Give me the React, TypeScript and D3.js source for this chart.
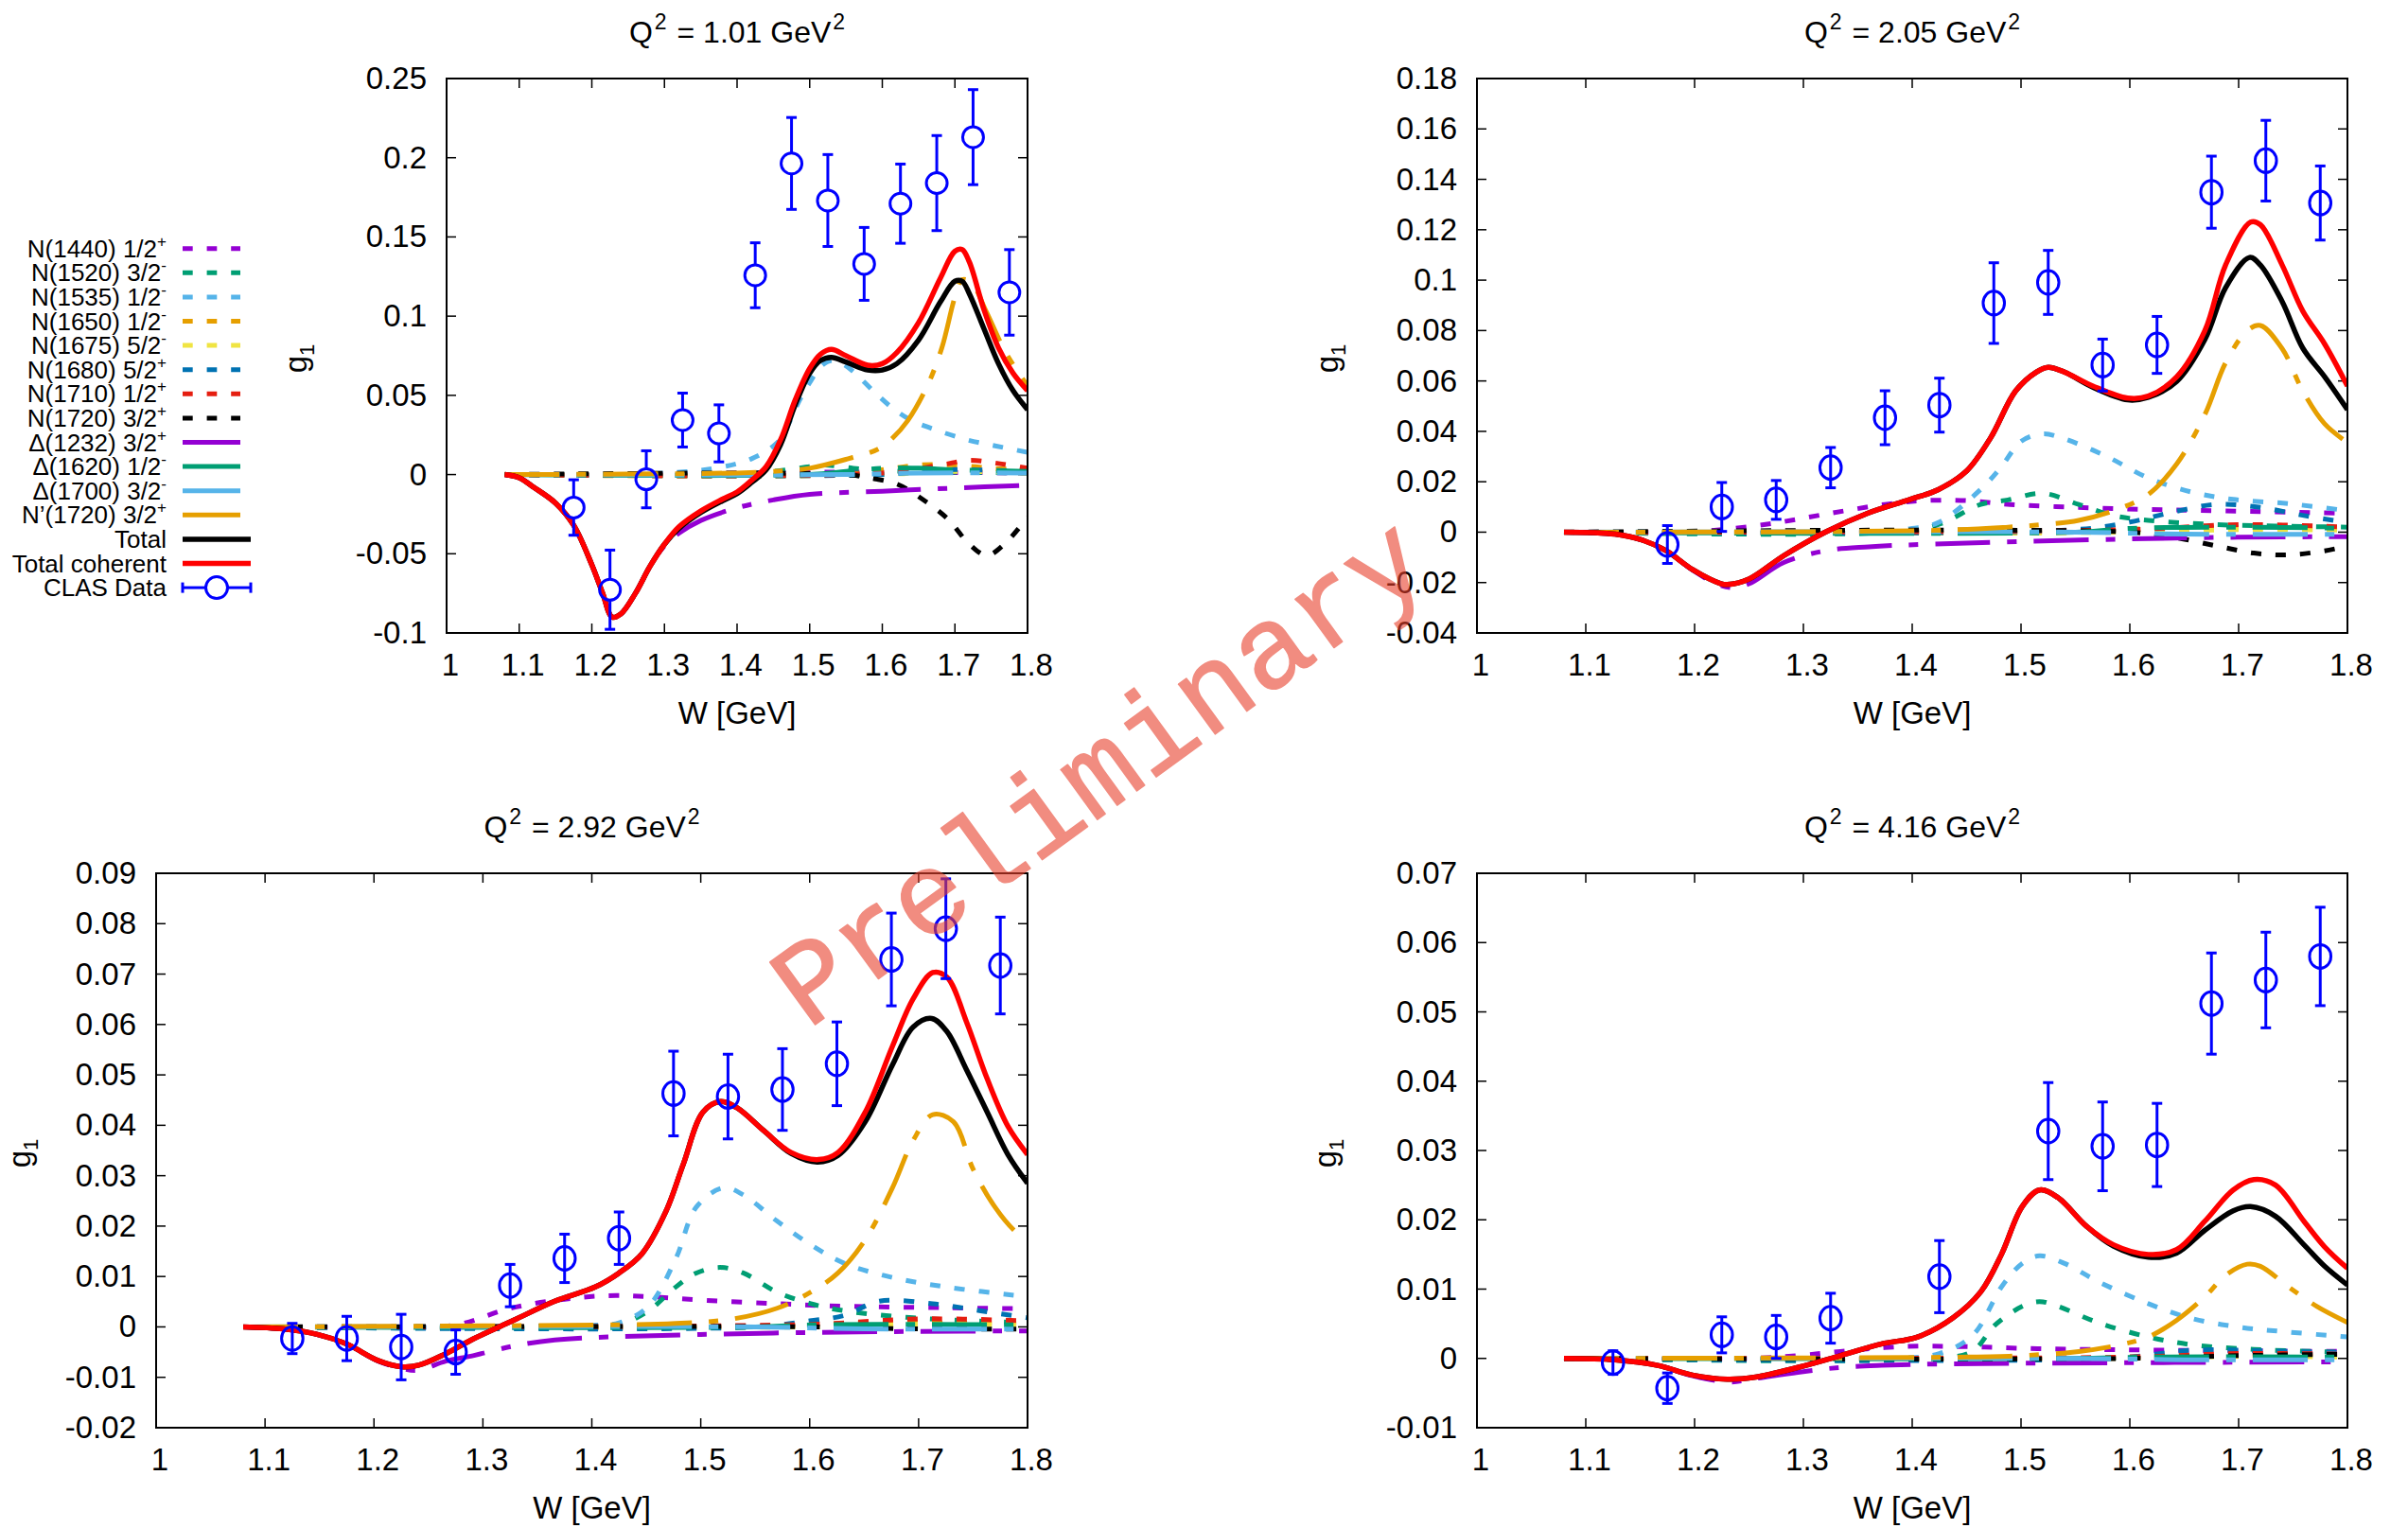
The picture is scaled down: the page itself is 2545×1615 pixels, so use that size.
import React from 'react';
import * as d3 from 'd3';

type Pt = [number, number];

// ---------- shared axis values ----------
const W_TICKS = [1, 1.1, 1.2, 1.3, 1.4, 1.5, 1.6, 1.7, 1.8];

// ---------- legend labels (text, superscript) ----------
const COMPONENT_LABELS: [string, string][] = [
  ['N(1440) 1/2', '+'],
  ['N(1520) 3/2', '-'],
  ['N(1535) 1/2', '-'],
  ['N(1650) 1/2', '-'],
  ['N(1675) 5/2', '-'],
  ['N(1680) 5/2', '+'],
  ['N(1710) 1/2', '+'],
  ['N(1720) 3/2', '+'],
  ['\u0394(1232) 3/2', '+'],
  ['\u0394(1620) 1/2', '-'],
  ['\u0394(1700) 3/2', '-'],
  ['N\u2019(1720) 3/2', '+'],
];

// line style of each resonance contribution, same order as the labels
const COMPONENT_STYLES = [
  { color: '#9400d3', kind: 'dash' },
  { color: '#009e73', kind: 'dash' },
  { color: '#56b4e9', kind: 'dash' },
  { color: '#e69f00', kind: 'dash' },
  { color: '#f0e442', kind: 'dash' },
  { color: '#0072b2', kind: 'dash' },
  { color: '#e51e10', kind: 'dash' },
  { color: '#000000', kind: 'dash' },
  { color: '#9400d3', kind: 'dashdot' },
  { color: '#009e73', kind: 'dashdot' },
  { color: '#56b4e9', kind: 'dashdot' },
  { color: '#e69f00', kind: 'dashdot' },
];

// =====================================================================
// Q^2 = 1.01 GeV^2
// =====================================================================
const p1W = [1.175, 1.225, 1.275, 1.325, 1.375, 1.425, 1.475, 1.525, 1.575, 1.625, 1.675, 1.725, 1.775];
const p1G = [-0.0208, -0.0727, -0.003, 0.0344, 0.026, 0.1258, 0.1964, 0.173, 0.133, 0.171, 0.184, 0.213, 0.115];
const p1E = [0.0175, 0.025, 0.018, 0.017, 0.018, 0.0205, 0.029, 0.029, 0.023, 0.025, 0.03, 0.03, 0.027];

const p1N1440: Pt[] = [[1.08, 0], [1.3, 0], [1.4, 0.001], [1.5, 0.0015], [1.6, 0.0015], [1.8, 0.001]];
const p1N1520: Pt[] = [[1.08, 0], [1.4, 0], [1.45, 0.002], [1.5, 0.005], [1.52, 0.006], [1.56, 0.004], [1.6, 0.0025], [1.7, 0.0015], [1.8, 0.001]];
const p1N1535: Pt[] = [[1.08, 0], [1.3, 0.001], [1.37, 0.004], [1.42, 0.01], [1.455, 0.02], [1.47, 0.031], [1.485, 0.046], [1.5, 0.058], [1.515, 0.068], [1.53, 0.072], [1.545, 0.07], [1.56, 0.065], [1.587, 0.053], [1.614, 0.042], [1.641, 0.034], [1.675, 0.028], [1.716, 0.022], [1.757, 0.018], [1.8, 0.014]];
const p1N1650: Pt[] = [[1.08, 0], [1.55, 0], [1.6, 0.003], [1.65, 0.006], [1.7, 0.006], [1.75, 0.004], [1.8, 0.003]];
const p1N1675: Pt[] = [[1.08, 0], [1.6, 0], [1.68, 0.002], [1.8, 0.001]];
const p1N1680: Pt[] = [[1.08, 0], [1.6, 0], [1.68, 0.003], [1.8, 0.002]];
const p1N1710: Pt[] = [[1.08, 0], [1.6, 0.001], [1.68, 0.006], [1.72, 0.009], [1.76, 0.007], [1.8, 0.004]];
const p1N1720: Pt[] = [[1.08, 0], [1.55, 0], [1.58, -0.002], [1.62, -0.006], [1.655, -0.0155], [1.69, -0.028], [1.72, -0.044], [1.744, -0.051], [1.77, -0.043], [1.8, -0.027]];
const p1D1232: Pt[] = [[1.08, 0], [1.1, -0.002], [1.12, -0.008], [1.15, -0.018], [1.175, -0.032], [1.2, -0.057], [1.215, -0.075], [1.228, -0.09], [1.24, -0.088], [1.26, -0.075], [1.28, -0.058], [1.3, -0.045], [1.32, -0.037], [1.35, -0.029], [1.4, -0.021], [1.45, -0.016], [1.5, -0.0125], [1.6, -0.0105], [1.7, -0.0085], [1.8, -0.0068]];
const p1D1620: Pt[] = [[1.08, 0], [1.5, 0], [1.55, 0.002], [1.6, 0.004], [1.65, 0.004], [1.7, 0.003], [1.8, 0.002]];
const p1D1700: Pt[] = [[1.08, 0], [1.55, 0], [1.65, 0.001], [1.8, 0.001]];
const p1Np1720: Pt[] = [[1.08, 0], [1.4, 0.001], [1.45, 0.002], [1.5, 0.004], [1.553, 0.01], [1.594, 0.016], [1.614, 0.023], [1.635, 0.034], [1.662, 0.056], [1.682, 0.08], [1.7, 0.112], [1.71, 0.123], [1.723, 0.121], [1.743, 0.103], [1.77, 0.077], [1.8, 0.056]];
const p1Total: Pt[] = [[1.08, 0], [1.1, -0.002], [1.12, -0.008], [1.15, -0.018], [1.175, -0.032], [1.2, -0.057], [1.215, -0.075], [1.228, -0.09], [1.24, -0.088], [1.26, -0.075], [1.28, -0.058], [1.3, -0.044], [1.32, -0.034], [1.35, -0.024], [1.38, -0.0165], [1.4, -0.012], [1.42, -0.005], [1.44, 0.003], [1.46, 0.019], [1.48, 0.044], [1.5, 0.064], [1.515, 0.072], [1.53, 0.074], [1.55, 0.071], [1.58, 0.066], [1.6, 0.066], [1.62, 0.07], [1.65, 0.085], [1.68, 0.109], [1.7, 0.122], [1.71, 0.122], [1.72, 0.114], [1.74, 0.092], [1.76, 0.07], [1.78, 0.053], [1.8, 0.041]];
const p1Coherent: Pt[] = [[1.08, 0], [1.1, -0.002], [1.12, -0.008], [1.15, -0.018], [1.175, -0.032], [1.2, -0.057], [1.215, -0.075], [1.228, -0.09], [1.24, -0.088], [1.26, -0.075], [1.28, -0.058], [1.3, -0.044], [1.32, -0.033], [1.35, -0.023], [1.38, -0.0155], [1.4, -0.011], [1.42, -0.0036], [1.44, 0.005], [1.46, 0.022], [1.48, 0.047], [1.5, 0.067], [1.515, 0.076], [1.53, 0.079], [1.55, 0.075], [1.58, 0.069], [1.6, 0.07], [1.62, 0.077], [1.65, 0.096], [1.68, 0.124], [1.7, 0.141], [1.71, 0.142], [1.72, 0.134], [1.74, 0.104], [1.76, 0.08], [1.78, 0.064], [1.8, 0.053]];

// =====================================================================
// Q^2 = 2.05 GeV^2
// =====================================================================
const p2W = [1.175, 1.225, 1.275, 1.325, 1.375, 1.425, 1.475, 1.525, 1.575, 1.625, 1.675, 1.725, 1.775];
const p2G = [-0.0049, 0.01, 0.0128, 0.0256, 0.0454, 0.0504, 0.0909, 0.0991, 0.0663, 0.0743, 0.1349, 0.1474, 0.1306];
const p2E = [0.0075, 0.0097, 0.0077, 0.008, 0.0107, 0.0107, 0.016, 0.0127, 0.0103, 0.0113, 0.0143, 0.016, 0.0147];

const p2N1440: Pt[] = [[1.08, 0], [1.18, 0], [1.225, 0.001], [1.275, 0.0037], [1.325, 0.0075], [1.375, 0.011], [1.41, 0.0125], [1.45, 0.0125], [1.49, 0.011], [1.553, 0.0098], [1.617, 0.009], [1.68, 0.0085], [1.8, 0.0075]];
const p2N1520: Pt[] = [[1.08, 0], [1.38, 0], [1.424, 0.003], [1.463, 0.011], [1.488, 0.0128], [1.52, 0.0154], [1.553, 0.011], [1.585, 0.0066], [1.617, 0.0047], [1.68, 0.003], [1.8, 0.002]];
const p2N1535: Pt[] = [[1.08, 0], [1.35, 0], [1.4, 0.0015], [1.424, 0.0038], [1.463, 0.017], [1.482, 0.026], [1.5, 0.036], [1.52, 0.039], [1.54, 0.037], [1.579, 0.03], [1.617, 0.0215], [1.656, 0.016], [1.695, 0.013], [1.746, 0.0113], [1.8, 0.0085]];
const p2N1650: Pt[] = [[1.08, 0], [1.55, 0], [1.62, 0.0015], [1.68, 0.002], [1.8, 0.0015]];
const p2N1675: Pt[] = [[1.08, 0], [1.6, 0], [1.7, 0.001], [1.8, 0.0008]];
const p2N1680: Pt[] = [[1.08, 0], [1.55, 0.001], [1.6, 0.004], [1.64, 0.008], [1.68, 0.011], [1.72, 0.0098], [1.76, 0.0066], [1.8, 0.0038]];
const p2N1710: Pt[] = [[1.08, 0], [1.6, 0.001], [1.7, 0.003], [1.8, 0.002]];
const p2N1720: Pt[] = [[1.08, 0], [1.6, 0], [1.64, -0.002], [1.68, -0.0055], [1.714, -0.0083], [1.746, -0.009], [1.779, -0.0074], [1.8, -0.0055]];
const p2D1232: Pt[] = [[1.08, 0], [1.127, -0.0008], [1.153, -0.0033], [1.174, -0.0074], [1.198, -0.015], [1.22, -0.0205], [1.235, -0.022], [1.25, -0.0205], [1.282, -0.012], [1.32, -0.0074], [1.36, -0.0058], [1.42, -0.0047], [1.5, -0.0037], [1.6, -0.0027], [1.7, -0.002], [1.8, -0.0018]];
const p2D1620: Pt[] = [[1.08, 0], [1.55, 0], [1.6, 0.0015], [1.7, 0.002], [1.8, 0.0015]];
const p2D1700: Pt[] = [[1.08, 0], [1.55, 0], [1.65, -0.0008], [1.8, -0.0008]];
const p2Np1720: Pt[] = [[1.08, 0], [1.42, 0.0007], [1.488, 0.002], [1.52, 0.003], [1.553, 0.0047], [1.585, 0.0085], [1.617, 0.015], [1.643, 0.027], [1.669, 0.0467], [1.688, 0.0672], [1.708, 0.08], [1.72, 0.082], [1.74, 0.0728], [1.759, 0.056], [1.779, 0.043], [1.8, 0.0355]];
const p2Total: Pt[] = [[1.08, 0], [1.127, -0.0008], [1.153, -0.0033], [1.174, -0.0074], [1.198, -0.0148], [1.224, -0.0204], [1.23, -0.0208], [1.25, -0.0186], [1.282, -0.0093], [1.32, 0], [1.359, 0.0075], [1.398, 0.013], [1.424, 0.0169], [1.45, 0.0243], [1.472, 0.0374], [1.495, 0.056], [1.514, 0.0635], [1.525, 0.0654], [1.54, 0.0635], [1.566, 0.0575], [1.598, 0.0525], [1.617, 0.0535], [1.643, 0.0598], [1.669, 0.0765], [1.688, 0.097], [1.71, 0.109], [1.72, 0.106], [1.74, 0.0915], [1.759, 0.073], [1.779, 0.0617], [1.8, 0.0486]];
const p2Coherent: Pt[] = [[1.08, 0], [1.127, -0.0008], [1.153, -0.0033], [1.174, -0.0074], [1.198, -0.0148], [1.224, -0.0204], [1.23, -0.0208], [1.25, -0.0186], [1.282, -0.0093], [1.32, 0], [1.359, 0.0075], [1.398, 0.013], [1.424, 0.0169], [1.45, 0.0243], [1.472, 0.0374], [1.495, 0.056], [1.514, 0.0635], [1.525, 0.0654], [1.54, 0.0635], [1.566, 0.058], [1.598, 0.0532], [1.617, 0.054], [1.643, 0.0616], [1.669, 0.08], [1.688, 0.106], [1.711, 0.123], [1.72, 0.122], [1.74, 0.106], [1.759, 0.0877], [1.779, 0.0747], [1.8, 0.058]];

// =====================================================================
// Q^2 = 2.92 GeV^2
// =====================================================================
const p3W = [1.125, 1.175, 1.225, 1.275, 1.325, 1.375, 1.425, 1.475, 1.525, 1.575, 1.625, 1.675, 1.725, 1.775];
const p3G = [-0.0023, -0.0023, -0.004, -0.005, 0.0082, 0.0136, 0.0176, 0.0463, 0.0457, 0.0471, 0.0522, 0.0729, 0.079, 0.0717];
const p3E = [0.003, 0.0044, 0.0065, 0.0044, 0.0042, 0.0048, 0.0052, 0.0084, 0.0084, 0.0081, 0.0083, 0.0092, 0.0099, 0.0096];

const p3N1440: Pt[] = [[1.08, 0], [1.2, 0], [1.275, 0.0004], [1.325, 0.0037], [1.375, 0.0055], [1.415, 0.0062], [1.452, 0.006], [1.502, 0.0053], [1.57, 0.0046], [1.632, 0.0041], [1.726, 0.0038], [1.8, 0.0036]];
const p3N1520: Pt[] = [[1.08, 0], [1.4, 0], [1.425, 0.0004], [1.452, 0.0032], [1.477, 0.0079], [1.496, 0.0107], [1.518, 0.0118], [1.539, 0.0107], [1.57, 0.0069], [1.601, 0.0046], [1.632, 0.0032], [1.695, 0.0018], [1.8, 0.0008]];
const p3N1535: Pt[] = [[1.08, 0], [1.35, 0], [1.4, 0.0003], [1.425, 0.0008], [1.452, 0.0041], [1.477, 0.0135], [1.496, 0.0238], [1.521, 0.0276], [1.539, 0.0262], [1.57, 0.021], [1.601, 0.0163], [1.632, 0.0126], [1.676, 0.0098], [1.726, 0.0079], [1.8, 0.006]];
const p3N1650: Pt[] = [[1.08, 0], [1.55, 0], [1.65, 0.0008], [1.8, 0.0006]];
const p3N1675: Pt[] = [[1.08, 0], [1.6, 0], [1.7, 0.0005], [1.8, 0.0004]];
const p3N1680: Pt[] = [[1.08, 0], [1.55, 0], [1.6, 0.0012], [1.632, 0.0023], [1.664, 0.0051], [1.713, 0.0046], [1.757, 0.0032], [1.8, 0.0018]];
const p3N1710: Pt[] = [[1.08, 0], [1.6, 0.0005], [1.7, 0.0016], [1.8, 0.0012]];
const p3N1720: Pt[] = [[1.08, 0], [1.6, 0], [1.7, -0.0004], [1.8, -0.0004]];
const p3D1232: Pt[] = [[1.08, 0], [1.117, -0.0004], [1.148, -0.0015], [1.175, -0.0034], [1.204, -0.0068], [1.225, -0.0082], [1.24, -0.0086], [1.266, -0.0068], [1.291, -0.0057], [1.328, -0.0038], [1.366, -0.0026], [1.415, -0.002], [1.5, -0.0015], [1.6, -0.0011], [1.7, -0.0009], [1.8, -0.0008]];
const p3D1620: Pt[] = [[1.08, 0], [1.55, 0], [1.6, 0.0004], [1.7, 0.0005], [1.8, 0.0004]];
const p3D1700: Pt[] = [[1.08, 0], [1.55, 0], [1.65, -0.0004], [1.8, -0.0004]];
const p3Np1720: Pt[] = [[1.08, 0], [1.415, 0.0004], [1.477, 0.0007], [1.527, 0.0015], [1.57, 0.0037], [1.601, 0.0069], [1.626, 0.0107], [1.651, 0.0173], [1.676, 0.0276], [1.695, 0.037], [1.713, 0.0421], [1.732, 0.0407], [1.75, 0.0313], [1.77, 0.0238], [1.788, 0.0191], [1.8, 0.0173]];
const p3Total: Pt[] = [[1.08, 0], [1.117, -0.0004], [1.148, -0.0015], [1.175, -0.0034], [1.204, -0.0067], [1.225, -0.0079], [1.241, -0.0076], [1.266, -0.0053], [1.291, -0.0024], [1.328, 0.0013], [1.366, 0.0051], [1.403, 0.0079], [1.425, 0.0107], [1.446, 0.0145], [1.468, 0.0229], [1.484, 0.0323], [1.502, 0.0426], [1.518, 0.0447], [1.533, 0.0435], [1.558, 0.0389], [1.583, 0.0344], [1.607, 0.0327], [1.626, 0.034], [1.651, 0.0407], [1.676, 0.052], [1.695, 0.0595], [1.712, 0.0612], [1.726, 0.0586], [1.744, 0.051], [1.763, 0.0426], [1.782, 0.0342], [1.8, 0.0285]];
const p3Coherent: Pt[] = [[1.08, 0], [1.117, -0.0004], [1.148, -0.0015], [1.175, -0.0034], [1.204, -0.0067], [1.225, -0.0079], [1.241, -0.0076], [1.266, -0.0053], [1.291, -0.0024], [1.328, 0.0013], [1.366, 0.0051], [1.403, 0.0079], [1.425, 0.0107], [1.446, 0.0145], [1.468, 0.0229], [1.484, 0.0323], [1.502, 0.0426], [1.518, 0.0447], [1.533, 0.0435], [1.558, 0.0389], [1.583, 0.0346], [1.608, 0.0332], [1.626, 0.0346], [1.651, 0.0426], [1.676, 0.0557], [1.695, 0.0651], [1.713, 0.0703], [1.726, 0.0694], [1.744, 0.0605], [1.763, 0.0492], [1.782, 0.0398], [1.8, 0.0342]];

// =====================================================================
// Q^2 = 4.16 GeV^2
// =====================================================================
const p4W = [1.125, 1.175, 1.225, 1.275, 1.325, 1.425, 1.525, 1.575, 1.625, 1.675, 1.725, 1.775];
const p4G = [-0.0006, -0.0043, 0.0034, 0.0031, 0.0058, 0.0118, 0.0328, 0.0306, 0.0308, 0.0512, 0.0546, 0.058];
const p4E = [0.0017, 0.0022, 0.0026, 0.0031, 0.0036, 0.0052, 0.007, 0.0064, 0.006, 0.0073, 0.0069, 0.0071];

const p4N1440: Pt[] = [[1.08, 0], [1.25, 0], [1.295, 0.0004], [1.334, 0.001], [1.39, 0.0017], [1.45, 0.0017], [1.515, 0.0014], [1.617, 0.0012], [1.8, 0.001]];
const p4N1520: Pt[] = [[1.08, 0], [1.42, 0], [1.455, 0.001], [1.476, 0.0048], [1.501, 0.0075], [1.517, 0.0082], [1.534, 0.0075], [1.572, 0.0051], [1.617, 0.0031], [1.656, 0.002], [1.714, 0.0013], [1.8, 0.0009]];
const p4N1535: Pt[] = [[1.08, 0], [1.38, 0], [1.425, 0.0007], [1.456, 0.0034], [1.482, 0.0103], [1.501, 0.0137], [1.517, 0.0148], [1.54, 0.0137], [1.572, 0.011], [1.617, 0.0079], [1.656, 0.0058], [1.701, 0.0045], [1.746, 0.0038], [1.8, 0.0031]];
const p4N1650: Pt[] = [[1.08, 0], [1.55, 0], [1.65, 0.0004], [1.8, 0.0003]];
const p4N1675: Pt[] = [[1.08, 0], [1.6, 0], [1.7, 0.0003], [1.8, 0.0002]];
const p4N1680: Pt[] = [[1.08, 0], [1.58, 0], [1.66, 0.0012], [1.72, 0.0011], [1.8, 0.0008]];
const p4N1710: Pt[] = [[1.08, 0], [1.6, 0.0002], [1.7, 0.0007], [1.8, 0.0006]];
const p4N1720: Pt[] = [[1.08, 0], [1.6, 0], [1.7, 0.0004], [1.8, 0.0006]];
const p4D1232: Pt[] = [[1.08, 0], [1.127, -0.0002], [1.166, -0.001], [1.198, -0.0025], [1.232, -0.0034], [1.256, -0.0029], [1.295, -0.002], [1.334, -0.0013], [1.372, -0.001], [1.425, -0.0008], [1.5, -0.0007], [1.8, -0.0005]];
const p4D1620: Pt[] = [[1.08, 0], [1.55, 0], [1.62, 0.0002], [1.8, 0.0002]];
const p4D1700: Pt[] = [[1.08, 0], [1.55, 0], [1.65, -0.0002], [1.8, -0.0002]];
const p4Np1720: Pt[] = [[1.08, 0], [1.45, 0.0002], [1.5, 0.0004], [1.553, 0.001], [1.592, 0.002], [1.617, 0.0031], [1.643, 0.0055], [1.669, 0.0089], [1.688, 0.012], [1.708, 0.0136], [1.72, 0.0133], [1.746, 0.0103], [1.772, 0.0075], [1.8, 0.0052]];
const p4Total: Pt[] = [[1.08, 0], [1.127, -0.0002], [1.166, -0.001], [1.198, -0.0024], [1.23, -0.003], [1.256, -0.0027], [1.295, -0.0013], [1.334, 0.0004], [1.372, 0.0021], [1.405, 0.0031], [1.437, 0.0058], [1.463, 0.0096], [1.482, 0.015], [1.501, 0.0219], [1.517, 0.0243], [1.534, 0.0232], [1.56, 0.0191], [1.585, 0.0162], [1.617, 0.0146], [1.643, 0.0152], [1.669, 0.0185], [1.695, 0.0213], [1.711, 0.0219], [1.734, 0.0205], [1.76, 0.0164], [1.779, 0.0133], [1.8, 0.0106]];
const p4Coherent: Pt[] = [[1.08, 0], [1.127, -0.0002], [1.166, -0.001], [1.198, -0.0024], [1.23, -0.003], [1.256, -0.0027], [1.295, -0.0013], [1.334, 0.0004], [1.372, 0.0021], [1.405, 0.0031], [1.437, 0.0058], [1.463, 0.0096], [1.482, 0.015], [1.501, 0.0219], [1.517, 0.0243], [1.534, 0.0232], [1.56, 0.0191], [1.585, 0.0164], [1.617, 0.015], [1.643, 0.0157], [1.669, 0.0198], [1.695, 0.0243], [1.714, 0.0258], [1.734, 0.025], [1.76, 0.0198], [1.779, 0.0161], [1.8, 0.013]];

// ---------- panel layout ----------
const FONT = 'Liberation Sans, Arial, Helvetica, sans-serif';

interface PanelCfg {
  q2: string;
  box: [number, number, number, number];
  yDomain: [number, number];
  yStep: number;
  dataW: number[];
  dataG: number[];
  dataE: number[];
  components: Pt[][];
  total: Pt[];
  coherent: Pt[];
  barThrough: boolean;
  rx: number;
  ry: number;
  ylabelX: number;
}

const PANELS: PanelCfg[] = [
  {
    q2: '1.01', box: [472, 83, 1086, 669], yDomain: [-0.1, 0.25], yStep: 0.05,
    dataW: p1W, dataG: p1G, dataE: p1E,
    components: [p1N1440, p1N1520, p1N1535, p1N1650, p1N1675, p1N1680, p1N1710, p1N1720, p1D1232, p1D1620, p1D1700, p1Np1720],
    total: p1Total, coherent: p1Coherent, barThrough: false, rx: 11, ry: 11, ylabelX: 324,
  },
  {
    q2: '2.05', box: [1561, 83, 2481, 669], yDomain: [-0.04, 0.18], yStep: 0.02,
    dataW: p2W, dataG: p2G, dataE: p2E,
    components: [p2N1440, p2N1520, p2N1535, p2N1650, p2N1675, p2N1680, p2N1710, p2N1720, p2D1232, p2D1620, p2D1700, p2Np1720],
    total: p2Total, coherent: p2Coherent, barThrough: true, rx: 11.3, ry: 12.5, ylabelX: 1414,
  },
  {
    q2: '2.92', box: [165, 923, 1086, 1509], yDomain: [-0.02, 0.09], yStep: 0.01,
    dataW: p3W, dataG: p3G, dataE: p3E,
    components: [p3N1440, p3N1520, p3N1535, p3N1650, p3N1675, p3N1680, p3N1710, p3N1720, p3D1232, p3D1620, p3D1700, p3Np1720],
    total: p3Total, coherent: p3Coherent, barThrough: true, rx: 11.3, ry: 12.5, ylabelX: 32,
  },
  {
    q2: '4.16', box: [1561, 923, 2481, 1509], yDomain: [-0.01, 0.07], yStep: 0.01,
    dataW: p4W, dataG: p4G, dataE: p4E,
    components: [p4N1440, p4N1520, p4N1535, p4N1650, p4N1675, p4N1680, p4N1710, p4N1720, p4D1232, p4D1620, p4D1700, p4Np1720],
    total: p4Total, coherent: p4Coherent, barThrough: true, rx: 11.3, ry: 12.5, ylabelX: 1412,
  },
];

const DASH = '11,15';
const DASHDOT = '58,18,10,18';
const DATA_BLUE = '#0000ff';
const TICK_LEN = 10;

function fmt(v: number): string {
  return String(+v.toFixed(4));
}

function Panel({ p, idx }: { p: PanelCfg; idx: number }) {
  const [x0, y0, x1, y1] = p.box;
  const x = d3.scaleLinear().domain([1, 1.8]).range([x0, x1]);
  const y = d3.scaleLinear().domain(p.yDomain).range([y1, y0]);
  const line = d3
    .line<Pt>()
    .x((d) => x(d[0]))
    .y((d) => y(d[1]))
    .curve(d3.curveCatmullRom.alpha(0.5));
  const n = Math.round((p.yDomain[1] - p.yDomain[0]) / p.yStep);
  const yTicks = d3.range(n + 1).map((i) => +(p.yDomain[0] + i * p.yStep).toFixed(4));
  const clipId = `plotclip${idx}`;
  const midX = (x0 + x1) / 2;
  const midY = (y0 + y1) / 2;

  return (
    <g>
      <defs>
        <clipPath id={clipId}>
          <rect x={x0} y={y0} width={x1 - x0} height={y1 - y0} />
        </clipPath>
      </defs>

      {/* ticks on all four sides, pointing inwards */}
      <g stroke="#000" strokeWidth={1.5}>
        {W_TICKS.slice(1, -1).map((t) => (
          <g key={`xt${t}`}>
            <line x1={x(t)} x2={x(t)} y1={y1} y2={y1 - TICK_LEN} />
            <line x1={x(t)} x2={x(t)} y1={y0} y2={y0 + TICK_LEN} />
          </g>
        ))}
        {yTicks.slice(1, -1).map((t) => (
          <g key={`yt${t}`}>
            <line x1={x0} x2={x0 + TICK_LEN} y1={y(t)} y2={y(t)} />
            <line x1={x1} x2={x1 - TICK_LEN} y1={y(t)} y2={y(t)} />
          </g>
        ))}
      </g>

      {/* model curves */}
      <g clipPath={`url(#${clipId})`} fill="none" strokeLinejoin="round">
        {p.components.map((c, k) => (
          <path
            key={k}
            d={line(c) || ''}
            stroke={COMPONENT_STYLES[k].color}
            strokeWidth={5}
            strokeDasharray={COMPONENT_STYLES[k].kind === 'dash' ? DASH : DASHDOT}
          />
        ))}
        <path d={line(p.total) || ''} stroke="#000" strokeWidth={5.5} />
        <path d={line(p.coherent) || ''} stroke="#ff0000" strokeWidth={5.5} />
      </g>

      {/* CLAS data with error bars */}
      <g stroke={DATA_BLUE} strokeWidth={3} fill="none">
        {p.dataW.map((w, i) => {
          const cx = x(w);
          const cy = y(p.dataG[i]);
          const yt = y(p.dataG[i] + p.dataE[i]);
          const yb = y(p.dataG[i] - p.dataE[i]);
          return (
            <g key={i}>
              {p.barThrough ? (
                <line x1={cx} x2={cx} y1={yt} y2={yb} />
              ) : (
                <>
                  <line x1={cx} x2={cx} y1={yt} y2={Math.max(yt, cy - p.ry)} />
                  <line x1={cx} x2={cx} y1={Math.min(yb, cy + p.ry)} y2={yb} />
                </>
              )}
              <line x1={cx - 5.5} x2={cx + 5.5} y1={yt} y2={yt} />
              <line x1={cx - 5.5} x2={cx + 5.5} y1={yb} y2={yb} />
              <ellipse cx={cx} cy={cy} rx={p.rx} ry={p.ry} />
            </g>
          );
        })}
      </g>

      {/* frame */}
      <rect x={x0} y={y0} width={x1 - x0} height={y1 - y0} fill="none" stroke="#000" strokeWidth={2} />

      {/* tick labels */}
      <g fontFamily={FONT} fontSize={33} fill="#000">
        {W_TICKS.map((t) => (
          <text key={`xl${t}`} x={x(t) + 4} y={y1 + 45} textAnchor="middle">
            {fmt(t)}
          </text>
        ))}
        {yTicks.map((t) => (
          <text key={`yl${t}`} x={x0 - 21} y={y(t) + 11} textAnchor="end">
            {fmt(t)}
          </text>
        ))}
        <text x={midX} y={y1 + 96} textAnchor="middle">
          W [GeV]
        </text>
        <text transform={`translate(${p.ylabelX},${midY + 3}) rotate(-90)`} textAnchor="middle">
          g
          <tspan fontSize={22} dy={8}>
            1
          </tspan>
        </text>
      </g>

      {/* panel title */}
      <text x={midX} y={y0 - 38} textAnchor="middle" fontFamily={FONT} fontSize={32} fill="#000">
        Q
        <tspan fontSize={23} dy={-14} dx={2}>
          2
        </tspan>
        <tspan dy={14} dx={2}>{` = ${p.q2} GeV`}</tspan>
        <tspan fontSize={23} dy={-14} dx={2}>
          2
        </tspan>
      </text>
    </g>
  );
}

function Legend() {
  const rowY = (i: number) => 262.7 + 25.6 * i;
  const textX = 176;
  const lx0 = 193;
  return (
    <g fontFamily={FONT} fontSize={26} fill="#000">
      {COMPONENT_LABELS.map(([label, sup], i) => (
        <g key={i}>
          <text x={textX} y={rowY(i) + 9} textAnchor="end">
            {label}
            <tspan fontSize={17} dy={-11}>
              {sup}
            </tspan>
          </text>
          <line
            x1={lx0}
            x2={254}
            y1={rowY(i)}
            y2={rowY(i)}
            stroke={COMPONENT_STYLES[i].color}
            strokeWidth={5}
            strokeDasharray={COMPONENT_STYLES[i].kind === 'dash' ? '10.7,14.9' : undefined}
          />
        </g>
      ))}
      <text x={textX} y={rowY(12) + 9} textAnchor="end">Total</text>
      <line x1={lx0} x2={265} y1={rowY(12)} y2={rowY(12)} stroke="#000" strokeWidth={5.5} />
      <text x={textX} y={rowY(13) + 9} textAnchor="end">Total coherent</text>
      <line x1={lx0} x2={265} y1={rowY(13)} y2={rowY(13)} stroke="#ff0000" strokeWidth={5.5} />
      <text x={textX} y={rowY(14) + 9} textAnchor="end">CLAS Data</text>
      <g stroke={DATA_BLUE} strokeWidth={3} fill="none">
        <line x1={lx0} x2={229 - 11.5} y1={rowY(14)} y2={rowY(14)} />
        <line x1={229 + 11.5} x2={265} y1={rowY(14)} y2={rowY(14)} />
        <line x1={lx0} x2={lx0} y1={rowY(14) - 5.5} y2={rowY(14) + 5.5} />
        <line x1={265} x2={265} y1={rowY(14) - 5.5} y2={rowY(14) + 5.5} />
        <circle cx={229} cy={rowY(14)} r={11.5} />
      </g>
    </g>
  );
}

export default function App() {
  return (
    <svg
      width={2545}
      height={1615}
      viewBox="0 0 2545 1615"
      style={{ position: 'absolute', left: 0, top: 0, display: 'block', background: '#fff' }}
    >
      <rect x={0} y={0} width={2545} height={1615} fill="#fff" />
      {PANELS.map((p, i) => (
        <Panel key={i} p={p} idx={i} />
      ))}
      <Legend />
      <g opacity={0.6}>
        <text
          transform="translate(1163,818) rotate(-36)"
          textAnchor="middle"
          dy="0.3em"
          fontFamily="Liberation Mono, DejaVu Sans Mono, monospace"
          fontSize={124}
          fill="#e8402c"
          stroke="#e8402c"
          strokeWidth={1.5}
          strokeLinejoin="round"
        >
          Preliminary
        </text>
      </g>
    </svg>
  );
}
